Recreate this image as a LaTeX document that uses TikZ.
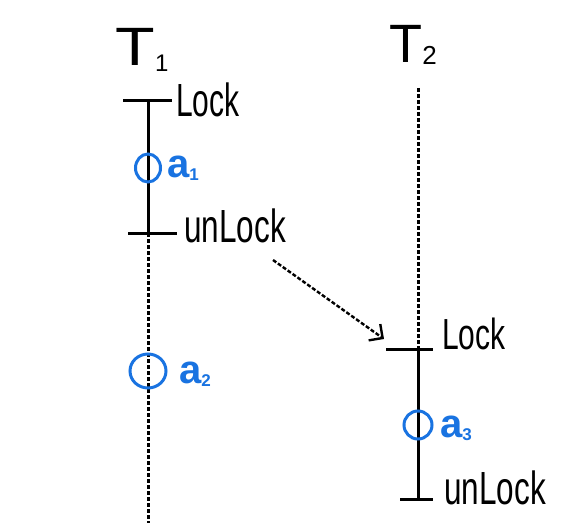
\documentclass[tikz,border=0pt]{standalone}
\usepackage{fontspec}
\usepackage{graphicx}
\setmainfont{Liberation Sans}
\usetikzlibrary{arrows.meta}
\definecolor{hblue}{RGB}{25,115,225}
\tikzset{
  solidline/.style={line width=3pt,black},
  dotline/.style={line width=3pt,black,dash pattern=on 4pt off 2pt},
  tick/.style={line width=3pt,black},
  lbl/.style={anchor=west,inner sep=0pt,font=\fontsize{30}{30}\selectfont},
  tlbl/.style={inner sep=0pt,font=\fontsize{54}{54}\selectfont},
  opcirc/.style={draw=hblue,line width=3pt},
  albl/.style={anchor=west,inner sep=0pt,text=hblue,font=\bfseries\fontsize{40}{40}\selectfont}
}
\begin{document}
\begin{tikzpicture}[x=1pt,y=-1pt]
\useasboundingbox (0,0) rectangle (575,532);
% T1 timeline
\node[tlbl] (T1) at (142,50) {\scalebox{1.2}[1]{T}\raisebox{-6pt}{\fontsize{24}{24}\selectfont 1}};
\coordinate (l1a) at (123,101);
\coordinate (l1b) at (172,101);
\coordinate (u1a) at (128,233);
\coordinate (u1b) at (177,233);
\coordinate (t1lock) at (148,101);
\coordinate (t1unlock) at (148,233);
\coordinate (t1end) at (148,523);
\draw[tick] (l1a) -- (l1b);
\draw[tick] (u1a) -- (u1b);
\draw[solidline] (t1lock) -- (t1unlock);
\draw[dotline] (t1unlock) -- (t1end);
\node[lbl] (lock1) at (176,100) {\scalebox{1}[1.55]{Lock}};
\node[lbl] (unlock1) at (184,226) {\scalebox{1.05}[1.55]{unLock}};
% circles on T1
\draw[opcirc] (148,168) ellipse [x radius=12.5pt, y radius=14pt];
\node[albl] (a1) at (167,168) {a\raisebox{-3pt}{\fontsize{17}{17}\selectfont 1}};
\draw[opcirc] (148,371) ellipse [x radius=18pt, y radius=17pt];
\node[albl] (a2) at (179,374) {a\raisebox{-3pt}{\fontsize{17}{17}\selectfont 2}};
% T2 timeline
\node[tlbl] (T2) at (413,45) {T\raisebox{-2pt}{\fontsize{26}{26}\selectfont 2}};
\coordinate (t2top) at (418,88);
\coordinate (t2lock) at (418,349);
\coordinate (t2unlock) at (418,499);
\coordinate (l2a) at (386,349);
\coordinate (l2b) at (433,349);
\coordinate (u2a) at (400,499);
\coordinate (u2b) at (433,499);
\draw[dotline] (t2top) -- (t2lock);
\draw[solidline] (t2lock) -- (t2unlock);
\draw[tick] (l2a) -- (l2b);
\draw[tick] (u2a) -- (u2b);
\node[lbl] (lock2) at (442,334) {\scalebox{1}[1.45]{Lock}};
\node[lbl] (unlock2) at (444,488) {\scalebox{1.05}[1.55]{unLock}};
\draw[opcirc] (418,425) ellipse [x radius=14pt, y radius=14pt];
\node[albl] (a3) at (440,428) {a\raisebox{-3pt}{\fontsize{17}{17}\selectfont 3}};
% arrow
\coordinate (arrs) at (273,260);
\coordinate (arre) at (384,339);
\draw[dotline,line width=2.4pt,-{Straight Barb[length=10pt,width=20pt,line width=2.4pt]}] (arrs) -- (arre);
\end{tikzpicture}
\end{document}
